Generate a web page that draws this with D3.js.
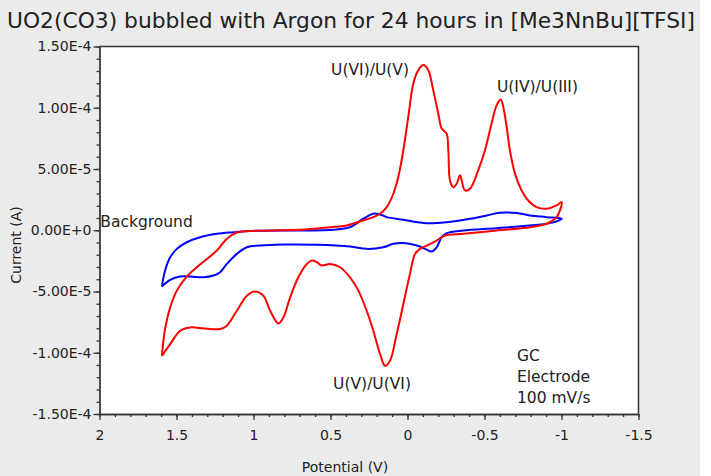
<!DOCTYPE html>
<html>
<head>
<meta charset="utf-8">
<script src="https://cdn.jsdelivr.net/npm/d3@7"></script>
<style>
  body { margin: 0; background: #fff; }
  text { font-family: "DejaVu Sans", sans-serif; fill: #222; }
</style>
</head>
<body>
<div id="container"></div>
<script>
// Potential (V) and current (in units of 1E-5 A)

// sample: UO2(CO3) in [Me3NnBu][TFSI] (red loop)
const sampleV = [1.595, 1.541, 1.476, 1.411, 1.347, 1.282, 1.217, 1.173, 1.108, 1.043,
  0.990, 0.936, 0.892, 0.838, 0.806, 0.762, 0.709, 0.654, 0.622, 0.589,
  0.557, 0.503, 0.438, 0.373, 0.319, 0.265, 0.222, 0.178, 0.146, 0.114,
  0.070, 0.027, -0.016, -0.049, -0.081, -0.125, -0.189, -0.243, -0.362, -0.579,
  -0.795, -0.903, -0.968, -0.990, -1.001,
  -0.968, -0.903, -0.838, -0.784, -0.741, -0.698, -0.665, -0.644, -0.622, -0.605,
  -0.579, -0.546, -0.503, -0.459, -0.406, -0.373, -0.352, -0.341, -0.319, -0.297,
  -0.276, -0.265, -0.254, -0.222, -0.200, -0.167, -0.135, -0.103, -0.070, -0.038,
  -0.005, 0.027, 0.060, 0.092, 0.135, 0.178, 0.222, 0.287, 0.395, 0.503,
  0.698, 1.022, 1.108, 1.173, 1.238, 1.347, 1.433, 1.498, 1.541, 1.574, 1.595];
const sampleI = [-10.25, -9.29, -8.20, -7.93, -7.98, -8.06, -8.06, -7.79, -6.57, -5.34,
  -4.99, -5.34, -6.57, -7.61, -7.12, -5.48, -3.84, -2.75, -2.48, -2.61,
  -2.88, -2.75, -3.02, -3.84, -4.93, -6.57, -8.20, -10.11, -11.07, -10.66,
  -8.47, -6.02, -3.56, -1.93, -1.52, -1.25, -0.84, -0.43, -0.29, -0.02,
  0.25, 0.53, 1.07, 1.62, 2.30,
  2.03, 1.76, 1.89, 2.43, 3.25, 4.62, 6.53, 8.43, 10.07, 10.68,
  10.21, 8.71, 6.53, 4.89, 3.39, 3.25, 4.07, 4.48, 3.80, 3.52,
  4.07, 6.53, 7.89, 8.30, 9.53, 11.44, 13.07, 13.48, 13.07, 11.98,
  9.25, 6.53, 4.34, 2.98, 1.89, 1.35, 1.07, 0.80, 0.39, 0.25,
  0.04, -0.06, -0.18, -0.70, -1.66, -2.80, -3.78, -4.93, -6.30, -8.04, -10.25];

// background (blue loop)
const bgV = [1.595, 1.574, 1.541, 1.498, 1.433, 1.347, 1.238, 1.130, 1.022, 0.698,
  0.482, 0.373, 0.287, 0.222, 0.178, 0.135, 0.027, -0.125, -0.254, -0.406,
  -0.514, -0.600, -0.709, -0.795, -0.903, -1.001,
  -0.925, -0.795, -0.579, -0.362, -0.254, -0.222, -0.189, -0.157, -0.125, -0.060,
  0.027, 0.092, 0.157, 0.265, 0.373, 0.589, 0.806, 0.957, 1.043, 1.108,
  1.173, 1.217, 1.260, 1.325, 1.411, 1.476, 1.541, 1.595];
const bgI = [-4.60, -3.29, -2.21, -1.52, -0.98, -0.57, -0.29, -0.16, -0.06, -0.02,
  0.04, 0.25, 0.94, 1.35, 1.29, 1.07, 0.86, 0.58, 0.66, 0.94,
  1.21, 1.43, 1.40, 1.21, 1.07, 0.94,
  0.58, 0.39, 0.17, -0.02, -0.24, -0.57, -1.39, -1.74, -1.58, -1.25,
  -1.04, -1.11, -1.39, -1.52, -1.33, -1.19, -1.17, -1.25, -1.39, -1.93,
  -2.75, -3.43, -3.70, -3.84, -3.78, -3.78, -4.05, -4.60];

const xTicks = [2, 1.5, 1, 0.5, 0, -0.5, -1, -1.5];
const yTicks = [1.5e-4, 1e-4, 5e-5, 0, -5e-5, -1e-4, -1.5e-4];

const title = "UO2(CO3) bubbled with Argon for 24 hours in [Me3NnBu][TFSI]";

const WIDTH = 711, HEIGHT = 476;
const plot = { left: 99.5, right: 638.5, top: 46.5, bottom: 414 };

const svg = d3.select("#container").append("svg")
  .attr("width", WIDTH).attr("height", HEIGHT);

// gray panel + white plot area
svg.append("rect").attr("width", 700).attr("height", HEIGHT).attr("fill", "#ebebeb");
svg.append("rect")
  .attr("x", plot.left).attr("y", plot.top)
  .attr("width", plot.right - plot.left).attr("height", plot.bottom - plot.top)
  .attr("fill", "#fff");

const x = d3.scaleLinear().domain([2, -1.5]).range([plot.left, plot.right]);
const y = d3.scaleLinear().domain([-1.5e-4, 1.5e-4]).range([plot.bottom, plot.top]);

const loc = d3.formatLocale({ decimal: ".", thousands: ",", grouping: [3], currency: ["", ""], minus: "-" });
const yFmt = d => loc.format(".2e")(d).toUpperCase();
const xFmt = loc.format("");

// minor ticks
svg.append("g").attr("class", "axis")
  .attr("transform", `translate(${plot.left},0)`)
  .call(d3.axisLeft(y).tickValues(d3.range(-15, 16).map(k => k * 1e-5))
    .tickSize(3).tickSizeOuter(0).tickFormat(""));
svg.append("g").attr("class", "axis")
  .attr("transform", `translate(0,${plot.bottom})`)
  .call(d3.axisBottom(x).tickValues(d3.range(-15, 21).map(k => k / 10))
    .tickSize(3).tickSizeOuter(0).tickFormat(""));

// major ticks + labels
svg.append("g").attr("class", "axis")
  .attr("transform", `translate(${plot.left},0)`)
  .call(d3.axisLeft(y).tickValues(yTicks).tickSize(6).tickSizeOuter(0)
    .tickPadding(2).tickFormat(yFmt));
svg.append("g").attr("class", "axis")
  .attr("transform", `translate(0,${plot.bottom})`)
  .call(d3.axisBottom(x).tickValues(xTicks).tickSize(6).tickSizeOuter(0)
    .tickPadding(10).tickFormat(xFmt));

svg.selectAll(".axis path, .axis line").attr("stroke", "#333").attr("stroke-width", 1.3);
svg.selectAll(".axis text").style("font-size", "14px").attr("fill", "#222")
  .style("font-family", "DejaVu Sans, sans-serif");

// frame: top and right
svg.append("path")
  .attr("d", `M${plot.left},${plot.top}H${plot.right}V${plot.bottom}`)
  .attr("fill", "none").attr("stroke", "#333").attr("stroke-width", 1.5);

// curves
const line = d3.line()
  .x(d => x(d[0])).y(d => y(d[1] * 1e-5))
  .curve(d3.curveCatmullRom.alpha(0.5));

svg.append("path")
  .datum(bgV.map((v, i) => [v, bgI[i]]))
  .attr("d", line).attr("fill", "none")
  .attr("stroke", "#0000ff").attr("stroke-width", 2);

svg.append("path")
  .datum(sampleV.map((v, i) => [v, sampleI[i]]))
  .attr("d", line).attr("fill", "none")
  .attr("stroke", "#ff0000").attr("stroke-width", 2);

// title and axis names
svg.append("text").attr("x", 7).attr("y", 28)
  .attr("textLength", 688).attr("lengthAdjust", "spacingAndGlyphs")
  .style("font-size", "21px").text(title);

svg.append("text").attr("x", 345).attr("y", 472)
  .attr("text-anchor", "middle").style("font-size", "14px").text("Potential (V)");

svg.append("text")
  .attr("transform", "translate(21,245) rotate(-90)")
  .attr("text-anchor", "middle").style("font-size", "14px").text("Current (A)");

// annotations (potential, current in A)
const notes = [
  { t: "U(VI)/U(V)", v: 0.496, i: 1.27e-4 },
  { t: "U(IV)/U(III)", v: -0.581, i: 1.13e-4 },
  { t: "U(V)/U(VI)", v: 0.483, i: -1.295e-4 },
  { t: "Background", v: 1.995, i: 0.03e-4 },
  { t: "GC", v: -0.711, i: -1.066e-4 },
  { t: "Electrode", v: -0.711, i: -1.237e-4 },
  { t: "100 mV/s", v: -0.711, i: -1.409e-4 }
];
svg.selectAll("text.note").data(notes).join("text")
  .attr("class", "note")
  .attr("x", d => x(d.v)).attr("y", d => y(d.i))
  .style("font-size", "15.5px")
  .text(d => d.t);
</script>
</body>
</html>
